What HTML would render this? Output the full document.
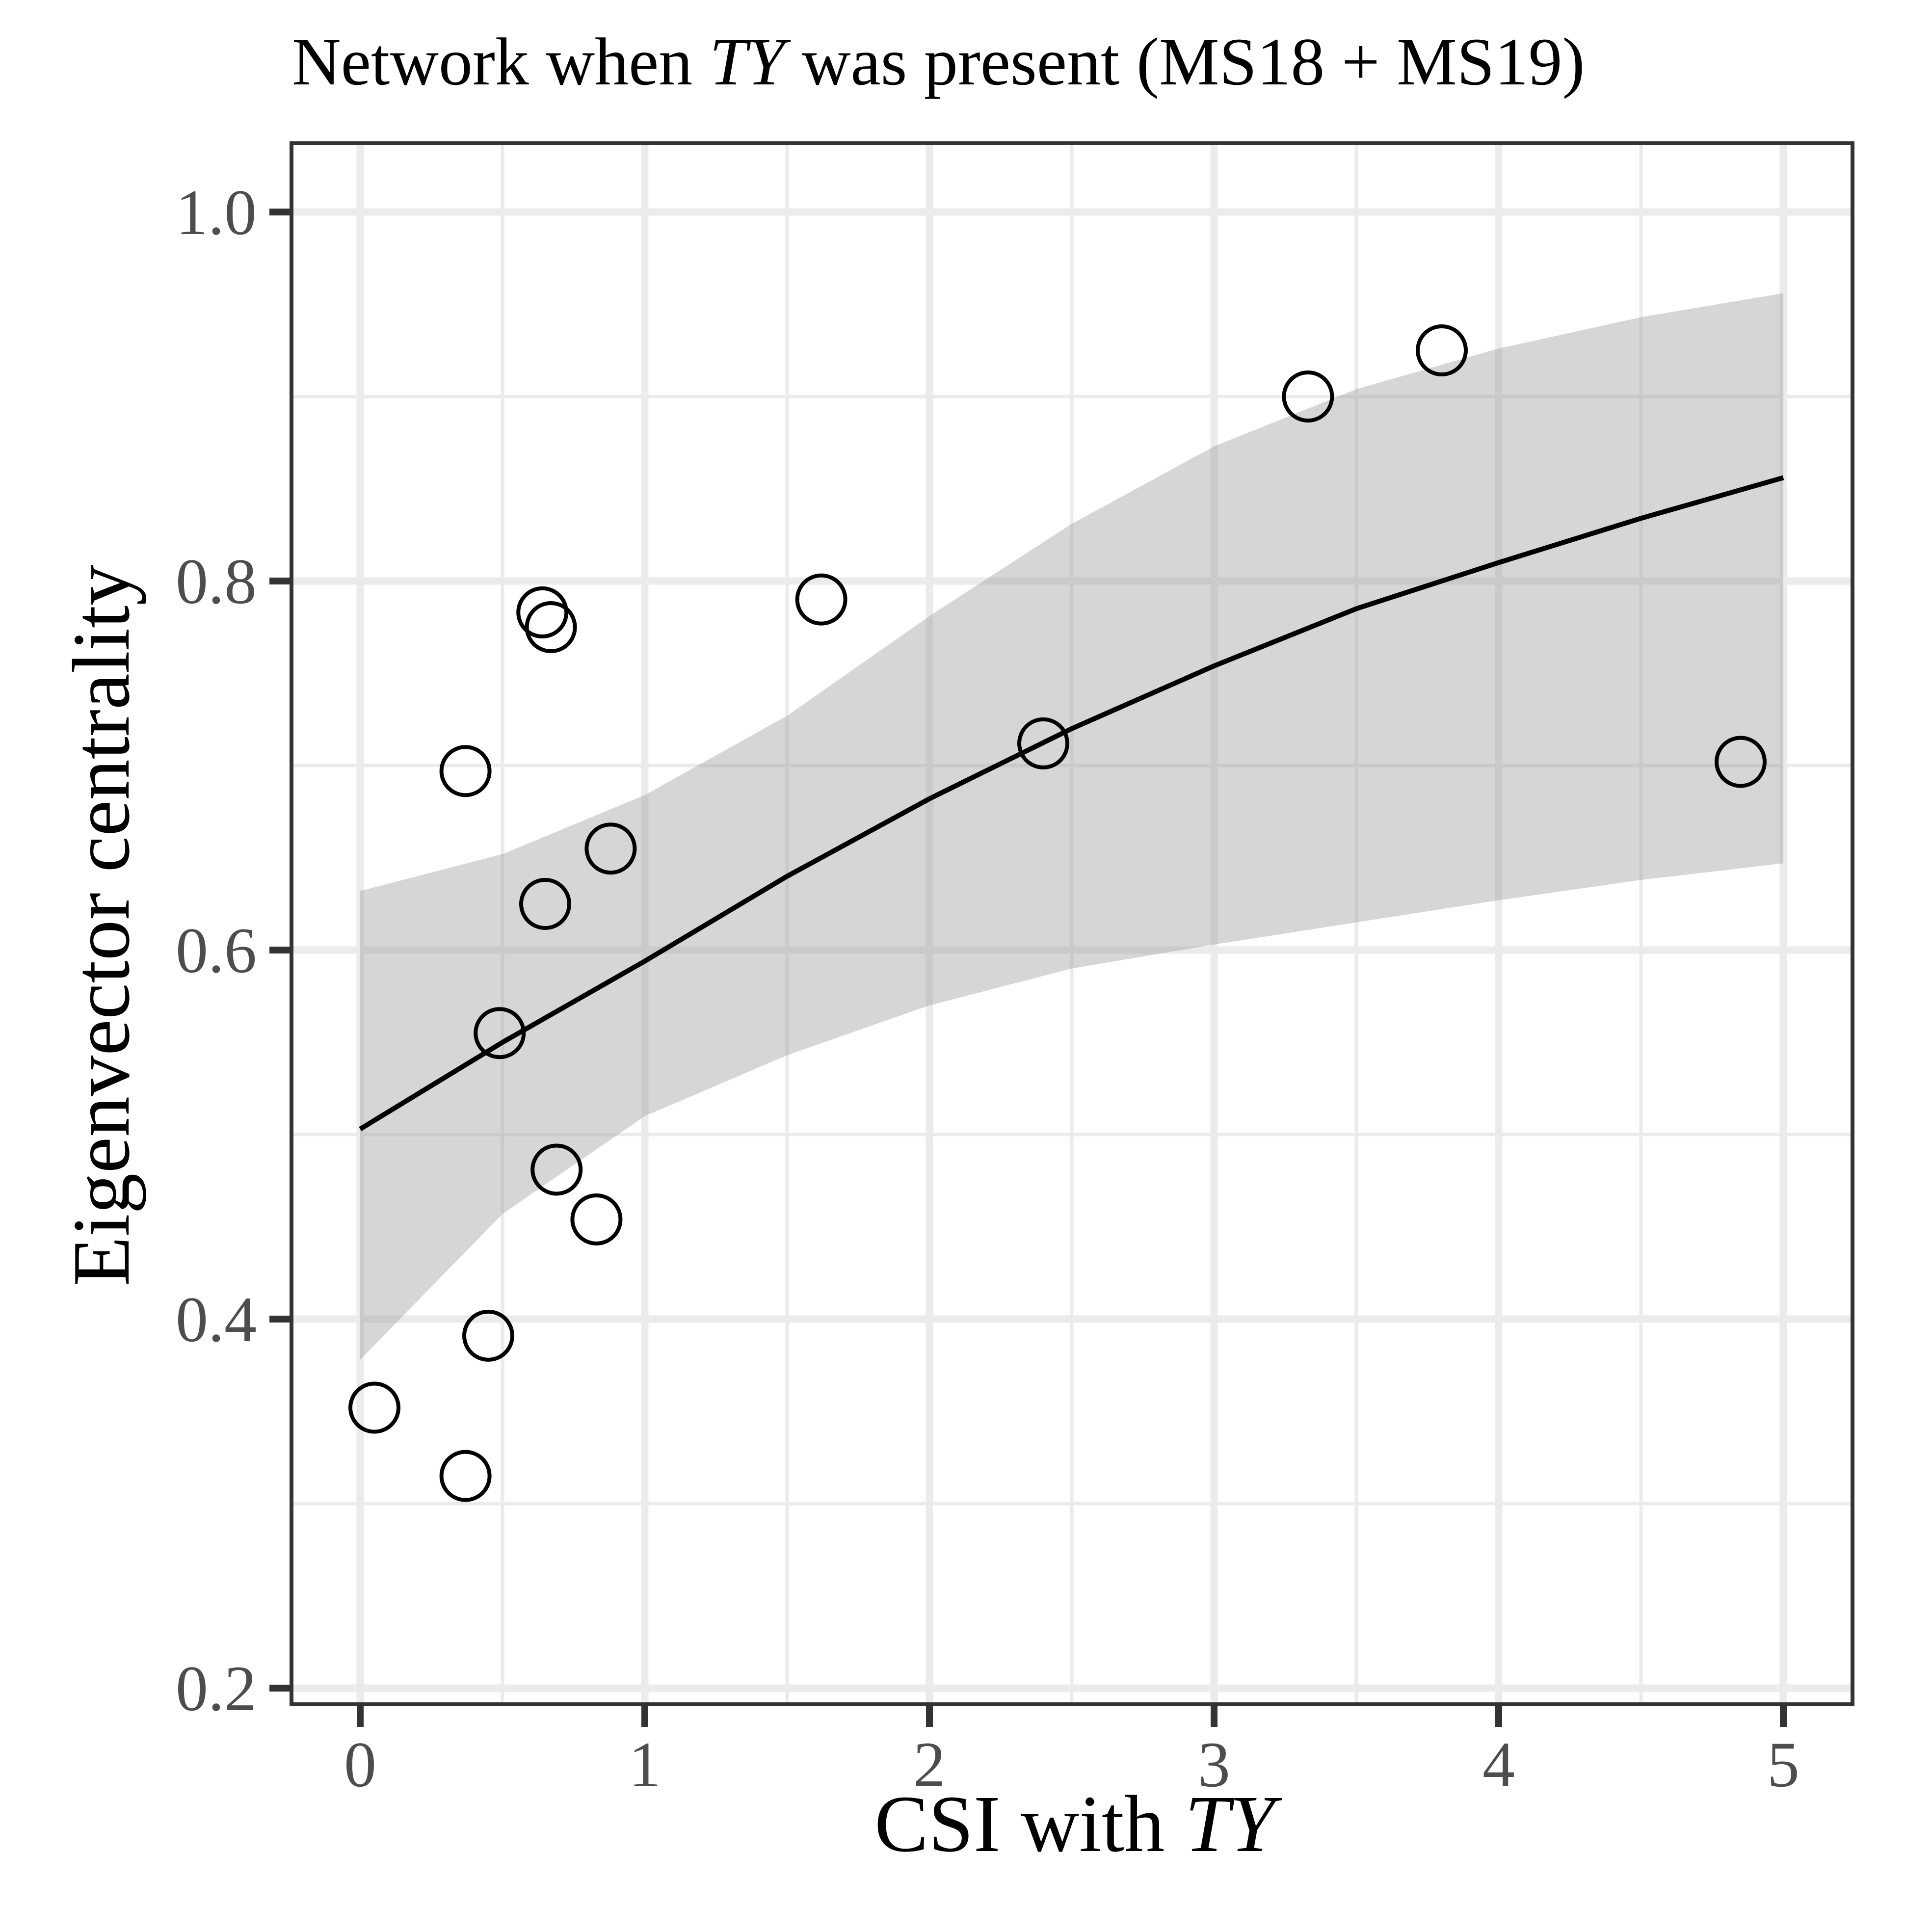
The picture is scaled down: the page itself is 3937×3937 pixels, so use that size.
<!DOCTYPE html>
<html><head><meta charset="utf-8">
<style>html,body{margin:0;padding:0;background:#fff;}svg{display:block;}</style>
</head><body>
<svg id="chart" width="3937" height="3937" viewBox="0 0 3937 3937" xmlns="http://www.w3.org/2000/svg" font-family="'Liberation Serif', serif">
<rect width="3937" height="3937" fill="#fff"/>
<g id="grid"></g>
<g id="band"></g>
<g id="fit"></g>
<g id="points"></g>
<rect x="594" y="292" width="3181" height="3181" fill="none" stroke="#333" stroke-width="8"/>
<g id="axes"></g>
<text x="595" y="172" font-size="138" fill="#000">Network when <tspan font-style="italic">TY</tspan> was present (MS18 + MS19)</text>
<text x="2190" y="3772" font-size="165" text-anchor="middle" fill="#000">CSI with <tspan font-style="italic">TY</tspan></text>
<text transform="translate(262,1886) rotate(-90)" font-size="166" text-anchor="middle" fill="#000">Eigenvector centrality</text>
</svg>
<script>
const pointX = [0.05,0.37,0.45,0.37,0.49,0.65,0.64,0.67,0.69,0.83,0.88,1.62,2.40,3.33,3.80,4.85];
const pointY = [0.352,0.315,0.391,0.697,0.555,0.625,0.783,0.775,0.481,0.454,0.655,0.790,0.712,0.900,0.925,0.702];
const fitX = [0,0.5,1,1.5,2,2.5,3,3.5,4,4.5,5];
const fitY = [0.503,0.550,0.594,0.640,0.682,0.720,0.754,0.785,0.810,0.834,0.856];
const bandUpper = [0.632,0.652,0.684,0.727,0.781,0.831,0.873,0.904,0.926,0.943,0.956];
const bandLower = [0.378,0.457,0.510,0.543,0.570,0.590,0.603,0.615,0.627,0.638,0.647];
const xTicks = [0,1,2,3,4,5];
const xTickLabels = ["0","1","2","3","4","5"];
const yTicks = [0.2,0.4,0.6,0.8,1.0];
const yTickLabels = ["0.2","0.4","0.6","0.8","1.0"];

const NS = "http://www.w3.org/2000/svg";
const L = 594, R = 3775, T = 292, B = 3473;
function sx(v){ return 734 + (v - 0) * (3634 - 734) / 5; }
function sy(v){ return 3440 - (v - 0.2) * (3440 - 432) / 0.8; }
function mk(tag, attrs, parent){ const e = document.createElementNS(NS, tag); for (const k in attrs) e.setAttribute(k, attrs[k]); parent.appendChild(e); return e; }

const grid = document.getElementById('grid');
for (let i = 0; i < xTicks.length - 1; i++) {
  const v = (xTicks[i] + xTicks[i+1]) / 2;
  const g = mk('line', {x1: sx(v), x2: sx(v), y1: T, y2: B, stroke: '#ebebeb', 'stroke-width': 7}, grid);
  
  
}
for (let i = 0; i < yTicks.length - 1; i++) {
  const v = (yTicks[i] + yTicks[i+1]) / 2;
  const g = mk('line', {x1: L, x2: R, y1: sy(v), y2: sy(v), stroke: '#ebebeb', 'stroke-width': 7}, grid);
  
  
}
xTicks.forEach(v => {
  const g = mk('line', {x1: sx(v), x2: sx(v), y1: T, y2: B, stroke: '#ebebeb', 'stroke-width': 15}, grid);
  
  
});
yTicks.forEach(v => {
  const g = mk('line', {x1: L, x2: R, y1: sy(v), y2: sy(v), stroke: '#ebebeb', 'stroke-width': 15}, grid);
  
  
});

let d = '';
fitX.forEach((x, i) => { d += (i ? 'L' : 'M') + sx(x) + ',' + sy(bandUpper[i]); });
for (let i = fitX.length - 1; i >= 0; i--) d += 'L' + sx(fitX[i]) + ',' + sy(bandLower[i]);
d += 'Z';
const band = mk('path', {d: d, fill: '#999999', 'fill-opacity': 0.4}, document.getElementById('band'));



const pts = fitX.map((x, i) => sx(x) + ',' + sy(fitY[i])).join(' ');
const fit = mk('polyline', {points: pts, fill: 'none', stroke: '#000', 'stroke-width': 10, 'stroke-linejoin': 'round'}, document.getElementById('fit'));



const pg = document.getElementById('points');
pointX.forEach((x, i) => {
  const c = mk('circle', {cx: sx(x), cy: sy(pointY[i]), r: 49, fill: 'none', stroke: '#000', 'stroke-width': 8}, pg);
  
  
});

const ax = document.getElementById('axes');
xTicks.forEach((v, i) => {
  const t = mk('line', {x1: sx(v), x2: sx(v), y1: B, y2: 3519, stroke: '#333', 'stroke-width': 14}, ax);
  
  
  const lb = mk('text', {x: sx(v), y: 3640, 'font-size': 132, 'text-anchor': 'middle', fill: '#4d4d4d'}, ax);
  lb.textContent = xTickLabels[i];
  
  
});
yTicks.forEach((v, i) => {
  const t = mk('line', {x1: 549, x2: L, y1: sy(v), y2: sy(v), stroke: '#333', 'stroke-width': 14}, ax);
  
  
  const lb = mk('text', {x: 523, y: sy(v) + 45, 'font-size': 132, 'text-anchor': 'end', fill: '#4d4d4d'}, ax);
  lb.textContent = yTickLabels[i];
  
  
});
</script>
</body></html>
